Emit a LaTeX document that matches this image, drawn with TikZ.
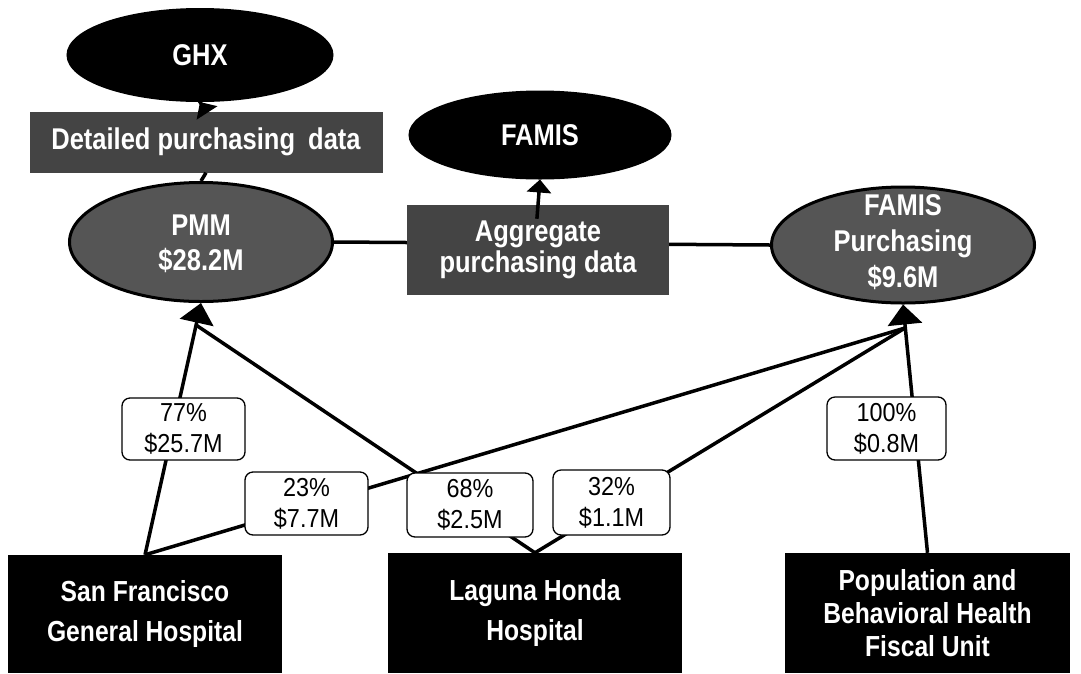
\documentclass[tikz,border=0pt]{standalone}
\usepackage{fontspec}
\setmainfont{Liberation Sans}
\newfontfamily\bnar[FakeStretch=0.85]{Liberation Sans}
\newfontfamily\rnar[FakeStretch=0.9]{Liberation Sans}
\usetikzlibrary{shapes.geometric,arrows.meta}
\definecolor{dgray}{RGB}{85,85,85}
\definecolor{bgray}{RGB}{68,68,68}
\begin{document}
\begin{tikzpicture}[x=1pt,y=-1pt,
  bigtext/.style={font=\bnar\bfseries\fontsize{30}{36}\selectfont, text=white, align=center, inner sep=0pt},
  ell/.style={ellipse, draw=black, line width=3pt, inner sep=0pt},
  databox/.style={rectangle, fill=bgray, inner sep=0pt, bigtext},
  unitbox/.style={rectangle, fill=black, inner sep=0pt, bigtext},
  lbl/.style={rectangle, rounded corners=8pt, draw=black, line width=1.3pt, fill=white, inner sep=0pt, align=center, font=\rnar\fontsize{26}{31}\selectfont},
  conn/.style={line width=3.5pt, draw=black},
  bighead/.style={-{Triangle[length=20pt,width=34pt]}},
  smallhead/.style={-{Triangle[length=13pt,width=24pt]}}
]
\useasboundingbox[fill=white] (0,0) rectangle (1081,673);

% top systems
\node[ell, fill=black, minimum width=264, minimum height=91] (ghx) at (200,55) {};
\node[bigtext] (ghxt) at (ghx.center) {GHX};
\node[ell, fill=black, minimum width=260, minimum height=86] (famis) at (540,135) {};
\node[bigtext] (famist) at (famis.center) {FAMIS};

% purchasing systems
\node[ell, fill=dgray, minimum width=263, minimum height=119] (pmm) at (201,242) {};
\node[bigtext, font=\bnar\bfseries\fontsize{30}{35}\selectfont] (pmmt) at (201,244) {PMM\\\$28.2M};
\node[ell, fill=dgray, minimum width=263, minimum height=116] (fp) at (903,245) {};
\node[bigtext, font=\bnar\bfseries\fontsize{30}{36}\selectfont] (fpt) at (903,242) {FAMIS\\Purchasing\\\$9.6M};

% horizontal link behind aggregate box
\draw[conn] (pmm.east) -- (fp.west);

% data boxes
\node[databox, minimum width=353, minimum height=61] (det) at (206,142) {Detailed purchasing\hspace{6pt} data};
\node[databox, minimum width=262, minimum height=90, font=\bnar\bfseries\fontsize{30}{31}\selectfont] (agg) at (538,250) {Aggregate\\purchasing data};

\draw[conn] (pmm.north) -- (det.south);
\draw[conn, smallhead, shorten <=-14pt] (det.north) -- (ghx.south);
\draw[conn, smallhead, shorten <=-14pt] (agg.north) -- (famis.south);

% units
\node[unitbox, minimum width=274, minimum height=118, font=\bnar\bfseries\fontsize{29}{40}\selectfont] (sf) at (145,614) {San Francisco\\General Hospital};
\node[unitbox, minimum width=294, minimum height=120, font=\bnar\bfseries\fontsize{29}{40}\selectfont] (lhh) at (535,613) {Laguna Honda\\Hospital};
\node[unitbox, minimum width=285, minimum height=120, font=\bnar\bfseries\fontsize{29}{33}\selectfont] (pop) at (927.5,613) {Population and\\Behavioral Health\\Fiscal Unit};

% joins below arrowheads
\coordinate (pmmj) at (196,325);
\coordinate (fpj) at (905,328);

% flows
\draw[conn, bighead] (sf.north) -- (pmm.south);
\draw[conn] (lhh.north) -- (pmmj);
\draw[conn] (sf.north) -- (fpj);
\draw[conn] (lhh.north) -- (fpj);
\draw[conn, bighead] (pop.north) -- (fp.south);

% flow labels
\node[lbl, minimum width=123, minimum height=62] (l77) at (183.5,429) {77\%\\\$25.7M};
\node[lbl, minimum width=123, minimum height=63] (l23) at (306.5,503.5) {23\%\\\$7.7M};
\node[lbl, minimum width=126, minimum height=64] (l68) at (470,505) {68\%\\\$2.5M};
\node[lbl, minimum width=117, minimum height=65] (l32) at (611.5,502.5) {32\%\\\$1.1M};
\node[lbl, minimum width=119, minimum height=63] (l100) at (886.5,428.5) {100\%\\\$0.8M};
\end{tikzpicture}
\end{document}
